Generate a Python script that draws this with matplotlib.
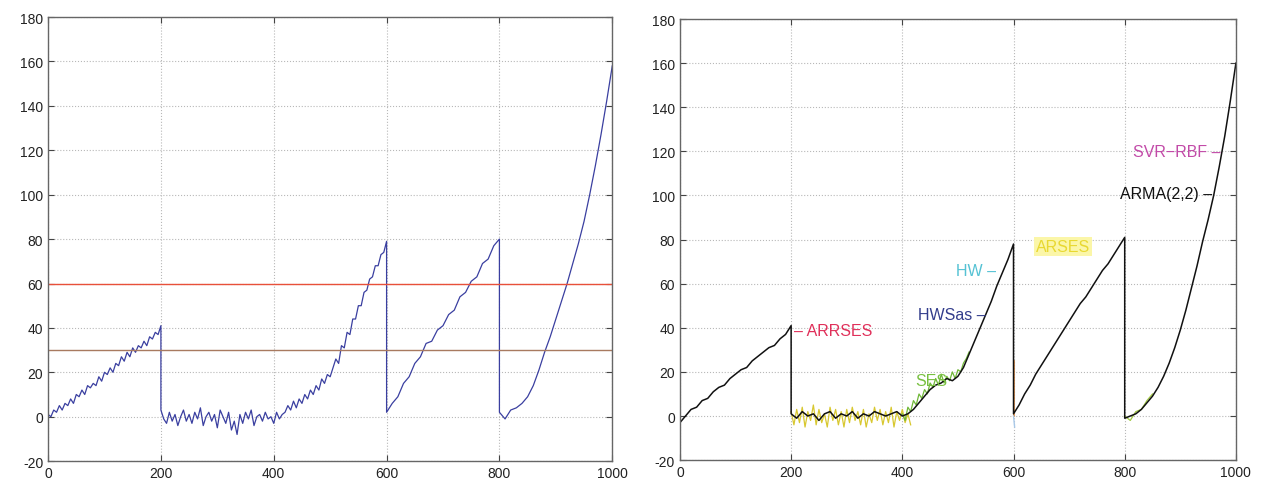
import numpy as np
import matplotlib
matplotlib.use('Agg')
import matplotlib.pyplot as plt

plt.rcParams['font.family'] = ['Liberation Sans', 'DejaVu Sans']
plt.rcParams['axes.unicode_minus'] = False

obs_seg1 = [1, 0, 3, 2, 5, 3, 6, 5, 8, 6, 10, 9, 12, 10, 14, 13, 15, 14, 18, 16, 20,
            19, 22, 20, 24, 23, 27, 25, 29, 27, 31, 29, 32, 31, 34, 32, 36, 35, 38, 37, 41]  # x 0..200 step 5
obs_seg2 = [3, -1, -3, 2, -2, 1, -4, 0, 3, -2, 1, -3, 2, -1, 4, -4, 0, 2, -2, 1, -5, 3,
            0, -3, 2, -6, -2, -8, 1, -3, 2, -1, 3, -4, 0, 1, -2, 2, -1, 0, -3, 2, -1, 1]  # x 200.. step 5
obs_seg3 = [2, 5, 3, 7, 4, 8, 6, 10, 8, 12, 10, 14, 12, 17, 15, 19, 18, 22, 26, 24, 32,
            31, 38, 37, 44, 44, 50, 50, 56, 57, 62, 63, 68, 68, 73, 74, 79]  # x 420..600 step 5
obs_seg4 = [2, 6, 9, 15, 18, 24, 27, 33, 34, 39, 41, 46, 48, 54, 56, 61, 63, 69, 71, 77, 80]  # x 600..800
obs_seg5 = [2, -1, 3, 4, 6, 9, 14, 21, 29, 36, 44, 52, 60, 69, 78, 88, 100, 113, 127, 142, 158]  # x 800..1000
thresholds = [60, 30]

# ARMA(2,2) forecast (right panel, black)
arma_seg1 = [-3, 0, 3, 4, 7, 8, 11, 13, 14, 17, 19, 21, 22, 25, 27, 29, 31, 32, 35, 37, 41]
arma_seg2 = [1, -1, 2, 0, 1, -2, 1, 2, -1, 1, 0, 2, -1, 1, 0, 2, 1, 0, 1, 2, 0, 1]  # x 200..410 step 10
arma_seg3 = [3, 6, 9, 12, 14, 15, 17, 16, 18, 22, 28, 34, 40, 46, 52, 59, 65, 71, 78]
arma_seg4 = [1, 5, 10, 14, 19, 23, 27, 31, 35, 39, 43, 47, 51, 54, 58, 62, 66, 69, 73, 77, 81]
arma_seg5 = [-1, 0, 1, 3, 6, 9, 13, 18, 24, 31, 39, 48, 58, 68, 79, 89, 100, 113, 127, 143, 160]

# other forecasts, only visible where they leave the black line
yellow_flat = [2, -4, 3, -3, 4, -5, 2, -2, 5, -4, 3, -3, 1, -5, 4, -2, 3, -4, 2, -5, 3, -3,
               4, -2, 2, -4, 3, -5, 1, -3, 4, -2, 3, -4, 2, -3, 4, -5, 2, -2, 3, -3, 1, -4]  # x 200.. step 5
green_rise = [1, -2, 4, 2, 7, 5, 10, 8, 12, 10, 15, 13, 17, 14, 19, 15, 18, 16, 20, 17, 21, 20, 24, 26, 29]  # x 400.. step 5
green_dip = [0, -2, 2, 3, 7, 10]  # x 800..850
orange_drop_y = [25, 0]  # at x 601
blue_dip_y = [0, -5]  # x 600..602

labels = ['\u2013 ARRSES', 'HWSas \u2013', 'HW \u2013', 'SES', 'ARSES', 'SVR\u2212RBF \u2013', 'ARMA(2,2) \u2013']
label_x = [205, 550, 568, 423, 640, 973, 958]
label_y = [39, 46, 66, 16, 77, 120, 101]
label_ha = ['left', 'right', 'right', 'left', 'left', 'right', 'right']
label_colors = ['#e0305a', '#333d8c', '#55c2d4', '#78c040', '#e8d830', '#c24aa8', '#111111']


def join_segments(segs, starts, steps):
    xs, ys = [], []
    for seg, s, st in zip(segs, starts, steps):
        xs.extend(s + st * np.arange(len(seg)))
        ys.extend(seg)
    return np.array(xs), np.array(ys)


def style_axes(ax):
    ax.set_xlim(0, 1000)
    ax.set_ylim(-20, 180)
    ax.set_xticks(np.arange(0, 1001, 200))
    ax.set_yticks(np.arange(-20, 181, 20))
    ax.grid(True, linestyle=':', color='#b8b8b8', linewidth=0.8)
    ax.tick_params(direction='in', top=True, right=True, labelsize=10,
                   colors='#444444', labelcolor='#222222', length=4)
    for sp in ax.spines.values():
        sp.set_color('#666666')
        sp.set_linewidth(1.0)


fig = plt.figure(figsize=(12.65, 4.89), dpi=100)
ax1 = fig.add_axes([0.038, 0.055, 0.446, 0.908])
ax2 = fig.add_axes([0.5375, 0.057, 0.4395, 0.902])

# left panel
ox, oy = join_segments([obs_seg1, obs_seg2, obs_seg3, obs_seg4, obs_seg5],
                       [0, 200, 420, 600, 800], [5, 5, 5, 10, 10])
ax1.plot(ox, oy, color='#3a3fa0', linewidth=0.9)
ax1.axhline(thresholds[0], color='#e8503a', linewidth=1.0)
ax1.axhline(thresholds[1], color='#a87a60', linewidth=1.0)
style_axes(ax1)

# right panel
ax2.plot(200 + 5 * np.arange(len(yellow_flat)), yellow_flat, color='#d8c830', linewidth=0.9)
ax2.plot(400 + 5 * np.arange(len(green_rise)), green_rise, color='#70b838', linewidth=0.9)
ax2.plot(800 + 10 * np.arange(len(green_dip)), green_dip, color='#a0c840', linewidth=0.9)
ax2.plot([601, 601], orange_drop_y, color='#e08a40', linewidth=1.2)
ax2.plot([600, 602], blue_dip_y, color='#a8c8e8', linewidth=1.0)
ax_x, ax_y = join_segments([arma_seg1, arma_seg2, arma_seg3, arma_seg4, arma_seg5],
                           [0, 200, 420, 600, 800], [10, 10, 10, 10, 10])
ax2.plot(ax_x, ax_y, color='#111111', linewidth=1.1)

for txt, x, y, ha, c in zip(labels, label_x, label_y, label_ha, label_colors):
    kw = {}
    if txt == 'ARSES':
        kw['bbox'] = dict(facecolor='#fbf6a8', edgecolor='none', pad=1.5)
    ax2.text(x, y, txt, color=c, fontsize=11.5, ha=ha, va='center', **kw)
style_axes(ax2)

fig.savefig('out.png', dpi=100)
